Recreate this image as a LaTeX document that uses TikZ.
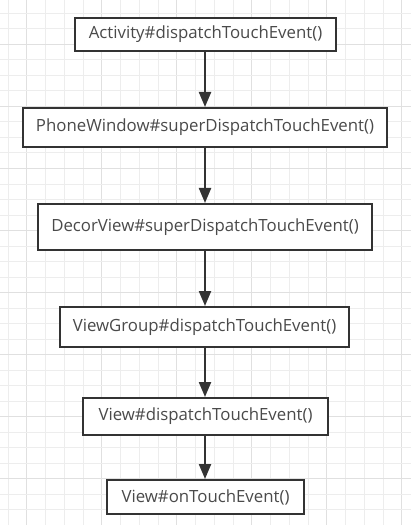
\documentclass[tikz,border=0pt]{standalone}
\usepackage{fontspec}
\setmainfont{Open Sans}
\usetikzlibrary{arrows.meta}
\definecolor{gridminor}{HTML}{EDEDED}
\definecolor{gridmajor}{HTML}{E0E0E0}
\definecolor{boxline}{HTML}{333333}
\definecolor{boxtext}{HTML}{4A4A4A}
\tikzset{
  flowbox/.style={draw=boxline, line width=2bp, fill=white, inner sep=0pt,
    font=\fontsize{16.8bp}{19bp}\selectfont, text=boxtext},
  flowarrow/.style={draw=boxline, line width=2.2bp, -{Triangle[width=12bp,length=15bp]}},
}
\begin{document}
\begin{tikzpicture}[x=1bp,y=-1bp]
\useasboundingbox (0,0) rectangle (411,525);
\fill[white] (0,0) rectangle (411,525);
% grid
\foreach \i in {0,...,21} {
  \pgfmathsetmacro{\xx}{floor(8+18.76*\i)+0.5}
  \pgfmathtruncatemacro{\m}{mod(\i,4)}
  \ifnum\m=1
    \draw[gridmajor, line width=1bp] (\xx,0) -- (\xx,525);
  \else
    \draw[gridminor, line width=1bp] (\xx,0) -- (\xx,525);
  \fi
}
\foreach \j in {0,...,32} {
  \pgfmathsetmacro{\yy}{floor(13.3+15.52*\j)+0.5}
  \pgfmathtruncatemacro{\m}{mod(\j,4)}
  \ifnum\m=2
    \draw[gridmajor, line width=1bp] (0,\yy) -- (411,\yy);
  \else
    \draw[gridminor, line width=1bp] (0,\yy) -- (411,\yy);
  \fi
}
% boxes
\node[flowbox, minimum width=261bp, minimum height=33bp] (a) at (205.5,34.5) {Activity\#dispatchTouchEvent()};
\node[flowbox, minimum width=364bp, minimum height=39bp] (b) at (205,127.5) {PhoneWindow\#superDispatchTouchEvent()};
\node[flowbox, minimum width=334bp, minimum height=46bp] (c) at (205,227) {DecorView\#superDispatchTouchEvent()};
\node[flowbox, minimum width=289bp, minimum height=40bp] (d) at (204.5,327) {ViewGroup\#dispatchTouchEvent()};
\node[flowbox, minimum width=245bp, minimum height=37bp] (e) at (205.5,416.5) {View\#dispatchTouchEvent()};
\node[flowbox, minimum width=197bp, minimum height=34bp] (f) at (205.5,497) {View\#onTouchEvent()};
% arrows
\draw[flowarrow] (a.south -| 205,0) -- (b.north -| 205,0);
\draw[flowarrow] (b.south -| 205,0) -- (c.north -| 205,0);
\draw[flowarrow] (c.south -| 205,0) -- (d.north -| 205,0);
\draw[flowarrow] (d.south -| 205,0) -- (e.north -| 205,0);
\draw[flowarrow] (e.south -| 205,0) -- (f.north -| 205,0);
\end{tikzpicture}
\end{document}
